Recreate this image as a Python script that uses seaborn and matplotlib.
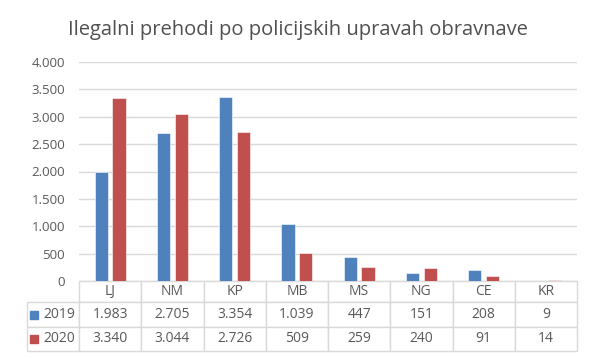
import pandas as pd
import seaborn as sns
import matplotlib.pyplot as plt
from matplotlib.patches import Rectangle
from matplotlib.ticker import FuncFormatter

# podatki
uprave = ['LJ', 'NM', 'KP', 'MB', 'MS', 'NG', 'CE', 'KR']
leta = ['2019', '2020']
v2019 = [1983, 2705, 3354, 1039, 447, 151, 208, 9]
v2020 = [3340, 3044, 2726, 509, 259, 240, 91, 14]
barve = ['#4F81BD', '#C0504D']

df = pd.DataFrame({
    'uprava': uprave * 2,
    'leto': ['2019'] * len(uprave) + ['2020'] * len(uprave),
    'vrednost': v2019 + v2020,
})

def fmt(v):
    return f'{v:,}'.replace(',', '.')

sns.set_style('white')
plt.rcParams['font.family'] = ['Open Sans', 'DejaVu Sans']
siva = '#595959'

fig = plt.figure(figsize=(5.95, 3.58), dpi=100)
ax = fig.add_axes([79 / 595, 1 - 281 / 358, 498 / 595, 219 / 358])

sns.barplot(data=df, x='uprava', y='vrednost', hue='leto', order=uprave,
            hue_order=leta, palette=barve, saturation=1, width=0.57, gap=0.25,
            edgecolor='white', linewidth=0.4, legend=False, ax=ax)

ax.set_ylim(0, 4000)
ax.set_yticks(range(0, 4001, 500))
ax.yaxis.set_major_formatter(FuncFormatter(lambda v, p: fmt(int(v))))
ax.tick_params(axis='y', length=0, labelsize=9.5, labelcolor=siva, pad=10)
ax.set_xlim(-0.5, len(uprave) - 0.5)
ax.set_xticks([])
ax.set_xlabel('')
ax.set_ylabel('')
ax.grid(axis='y', color='#D9D9D9', linewidth=1)
ax.set_axisbelow(True)
for s in ax.spines.values():
    s.set_visible(False)

# tabela s podatki pod grafom
vrstice = [[''] + uprave,
           ['2019'] + [fmt(v) for v in v2019],
           ['2020'] + [fmt(v) for v in v2020]]
x0 = (27 - 79) / 498
tbl = ax.table(cellText=vrstice, cellLoc='center',
               colWidths=[52] + [62.25] * len(uprave),
               bbox=[x0, -70 / 219, 1 - x0, 70 / 219])
tbl.auto_set_font_size(False)
tbl.set_fontsize(10)
for (r, c), cell in tbl.get_celld().items():
    cell.set_edgecolor('#D9D9D9')
    cell.set_linewidth(1)
    cell.set_height(21 if r == 0 else 24)
    cell.get_text().set_color(siva)
    if r == 0 and c == 0:
        cell.visible_edges = ''
    if r > 0 and c == 0:
        cell.get_text().set_ha('right')
        cell.PAD = 0.08

# barvni kvadratki legende
for i, b in enumerate(barve):
    yc = (281 - (314.5 + 24 * i)) / 219
    ax.add_patch(Rectangle((-49 / 498, yc - 4.5 / 219), 8 / 498, 8 / 219,
                           transform=ax.transAxes, color=b, clip_on=False))

fig.text(0.5, 1 - 30 / 358, 'Ilegalni prehodi po policijskih upravah obravnave',
         ha='center', va='center', fontsize=14.5, color='#505050')

fig.savefig('out.png', dpi=100)
